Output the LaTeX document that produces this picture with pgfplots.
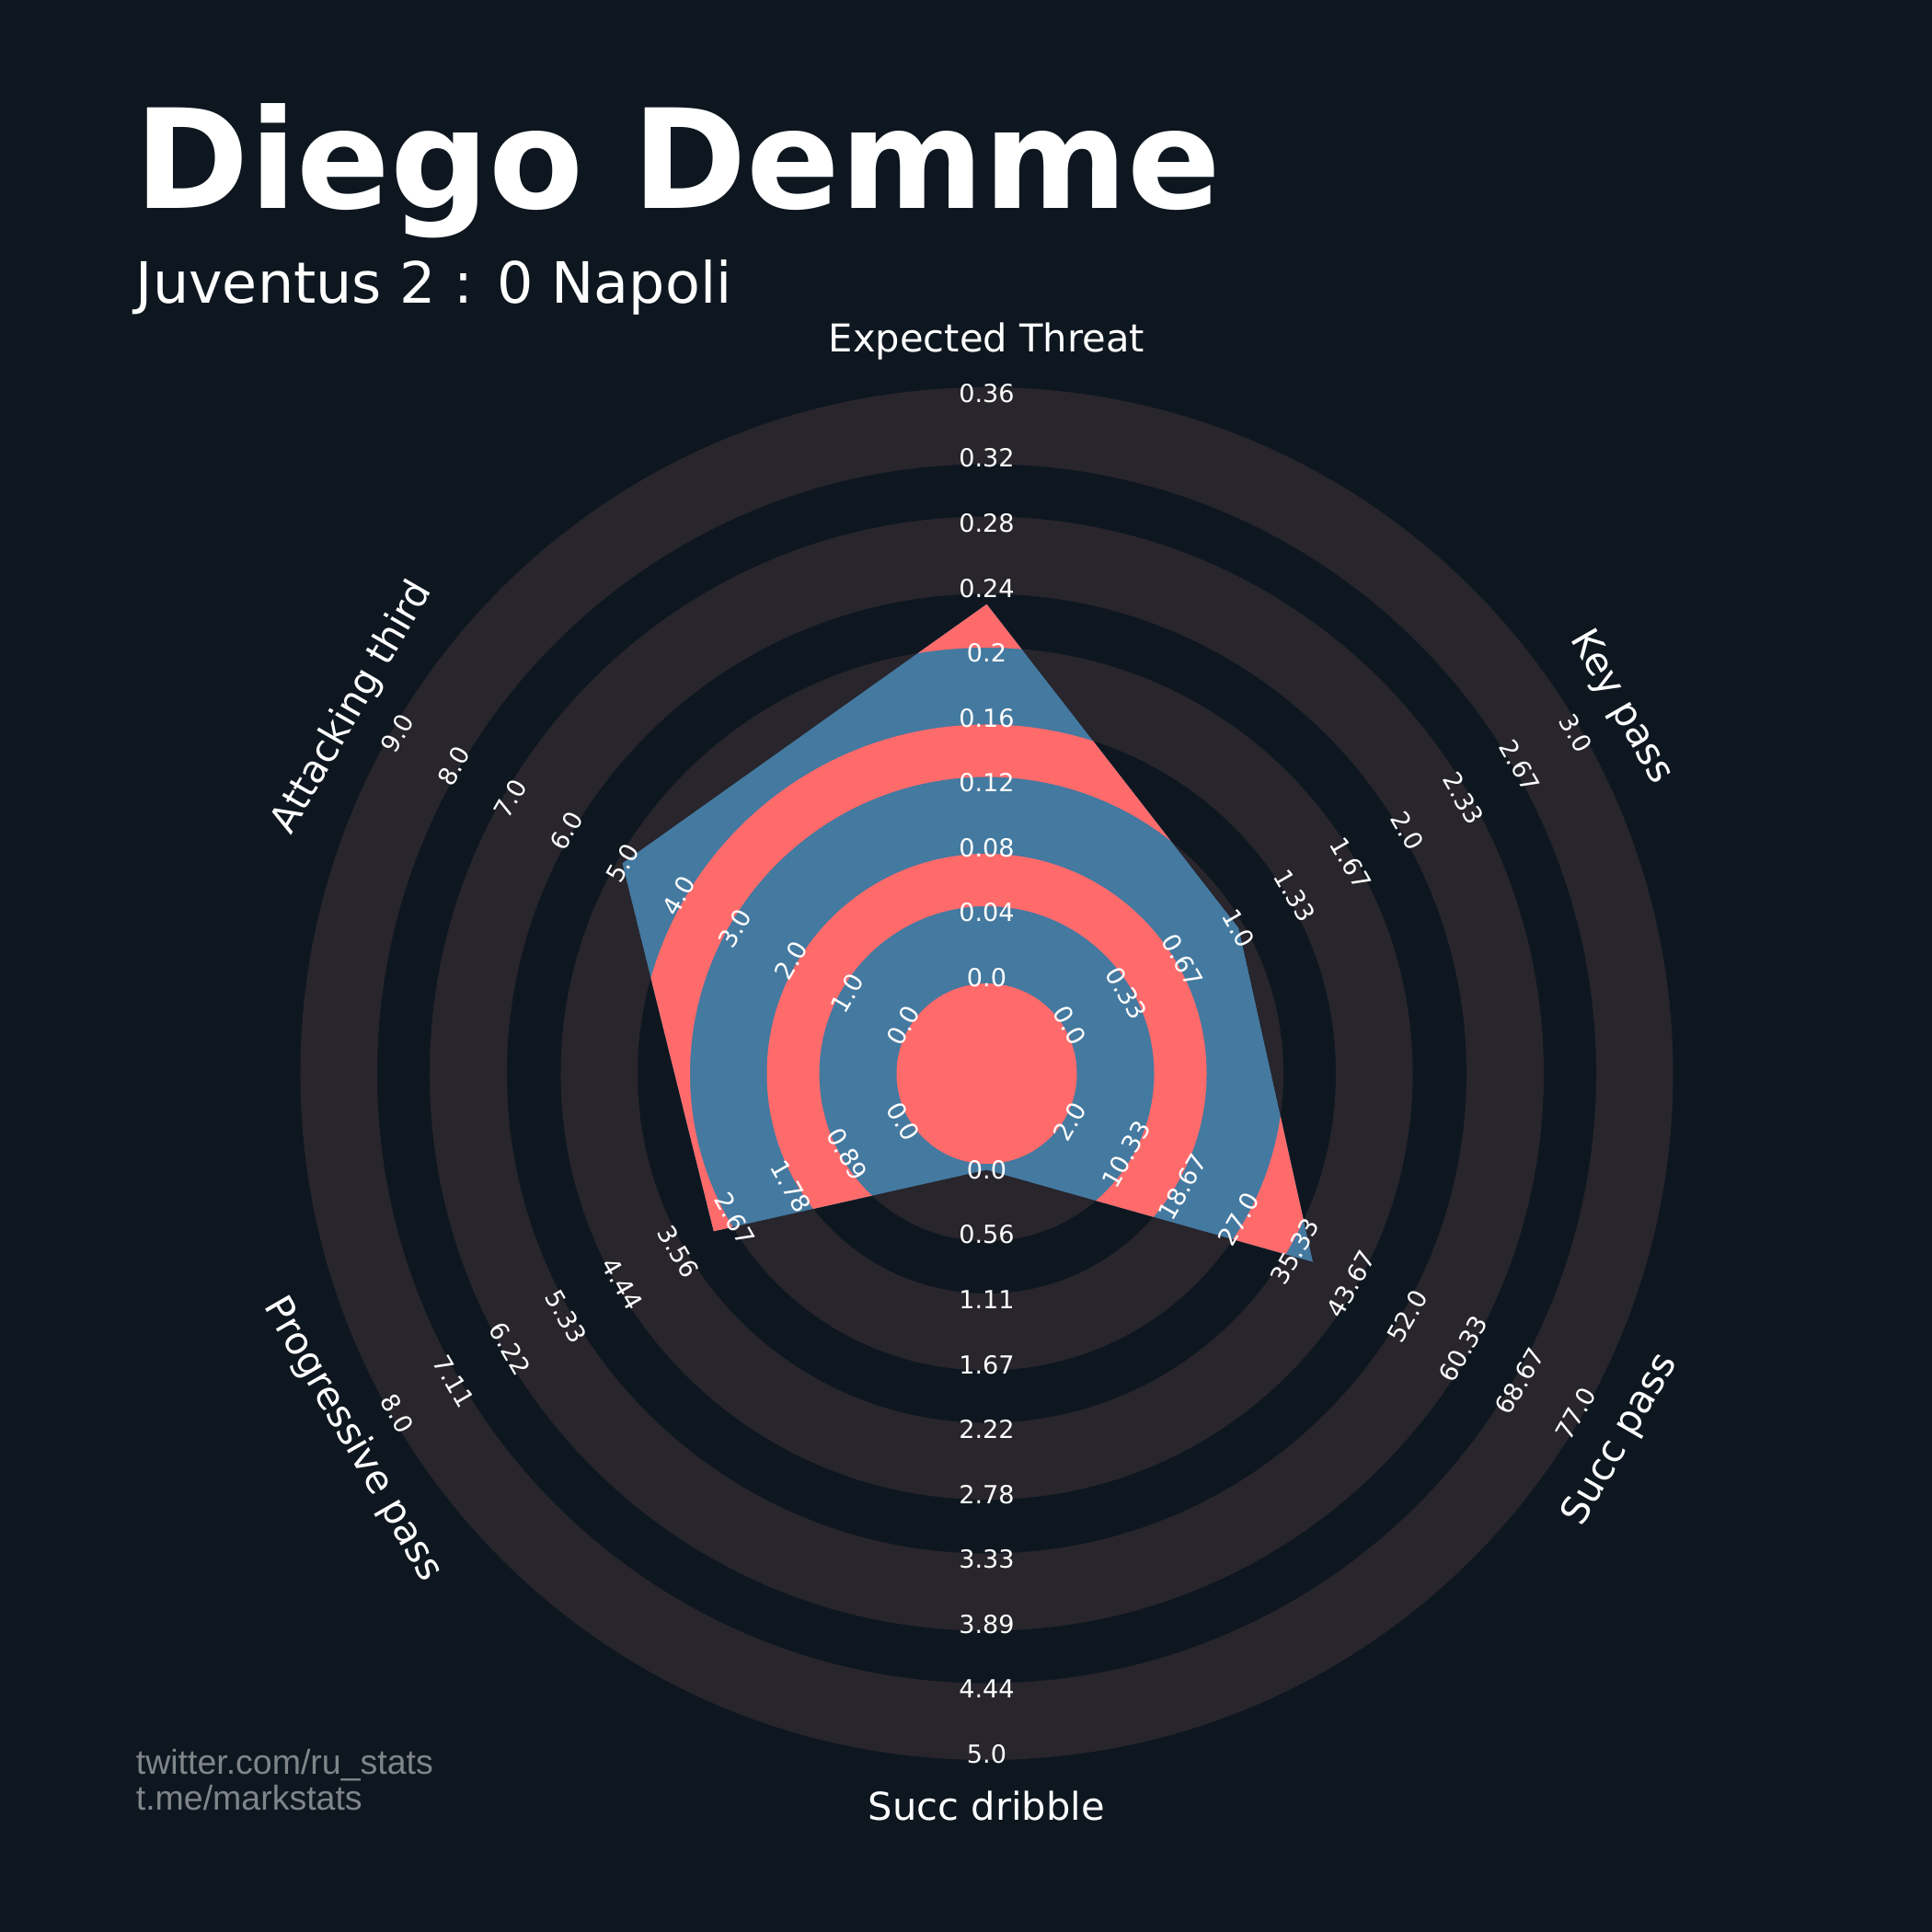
\documentclass[border=0pt]{standalone}
\usepackage{fontspec}
\setmainfont{DejaVu Sans}
\newfontfamily\footfont{Liberation Sans}
\usepackage{pgfplots}
\usepackage{pgfplotstable}
\pgfplotsset{compat=1.18}

\definecolor{bgdark}{HTML}{0E1720}
\definecolor{ringlight}{HTML}{28252C}
\definecolor{radarblue}{HTML}{4479A0}
\definecolor{radarred}{HTML}{FF6B6B}
\definecolor{footgray}{HTML}{80858A}

% one unit = one pixel of a 7in x 7in figure at 300 dpi
\newcommand{\px}{0.24pt}

% radar values: angle of the spoke, value, range of the spoke
\pgfplotstableread{
param angle value lo hi
ExpectedThreat 90 0.23 0 0.36
KeyPass 30 1.0 0 3
SuccPass -30 38 2 77
SuccDribble -90 0 0 5
ProgressivePass -150 3 0 8
AttackingThird 150 5 0 9
ExpectedThreat 90 0.23 0 0.36
}\radardata

% red bands inside the radar polygon (even-odd concentric circles)
\newcommand{\radarbands}{%
  \begin{pgfscope}%
  \pgfsetfillcolor{radarred}%
  \pgfseteorule
  \pgfpathcircle{\pgfplotspointaxisxy{0}{0}}{23.52pt}%
  \pgfpathcircle{\pgfplotspointaxisxy{0}{0}}{43.68pt}%
  \pgfpathcircle{\pgfplotspointaxisxy{0}{0}}{57.36pt}%
  \pgfpathcircle{\pgfplotspointaxisxy{0}{0}}{77.40pt}%
  \pgfpathcircle{\pgfplotspointaxisxy{0}{0}}{91.08pt}%
  \pgfpathcircle{\pgfplotspointaxisxy{0}{0}}{111.12pt}%
  \pgfpathcircle{\pgfplotspointaxisxy{0}{0}}{125.16pt}%
  \pgfpathcircle{\pgfplotspointaxisxy{0}{0}}{145.32pt}%
  \pgfpathcircle{\pgfplotspointaxisxy{0}{0}}{159.00pt}%
  \pgfusepath{fill}%
  \end{pgfscope}%
}

\begin{document}
\begin{tikzpicture}
% background
\fill[bgdark] (0,0) rectangle (504pt,504pt);

% concentric rings
\begin{scope}[shift={(257.4pt,223.92pt)}]
\foreach \ra/\rb in {98/182, 239/322.5, 379.5/463, 521.5/605.5, 662.5/746}{
  \fill[ringlight, even odd rule] (0,0) circle[radius=\rb*\px] circle[radius=\ra*\px];
}
\end{scope}

\begin{axis}[
  at={(0,0)}, anchor=south west,
  x=\px, y=\px,
  xmin=-1072.5, xmax=1027.5,
  ymin=-933, ymax=1167,
  hide axis, clip=false,
]
\addplot[draw=none, fill=radarblue, path picture={\radarbands}]
  table[
    x expr={(104.6+(\thisrow{value}-\thisrow{lo})/(\thisrow{hi}-\thisrow{lo})*634.8)*cos(\thisrow{angle})},
    y expr={(104.6+(\thisrow{value}-\thisrow{lo})/(\thisrow{hi}-\thisrow{lo})*634.8)*sin(\thisrow{angle})},
  ] {\radardata};
\end{axis}

% range labels along each spoke
\begin{scope}[shift={(257.4pt,223.92pt)}]
\foreach \th/\rot/\labs in {
  90/0/{0.0,0.04,0.08,0.12,0.16,0.2,0.24,0.28,0.32,0.36},
  30/-60/{0.0,0.33,0.67,1.0,1.33,1.67,2.0,2.33,2.67,3.0},
  -30/60/{2.0,10.33,18.67,27.0,35.33,43.67,52.0,60.33,68.67,77.0},
  -90/0/{0.0,0.56,1.11,1.67,2.22,2.78,3.33,3.89,4.44,5.0},
  -150/-60/{0.0,0.89,1.78,2.67,3.56,4.44,5.33,6.22,7.11,8.0},
  150/60/{0.0,1.0,2.0,3.0,4.0,5.0,6.0,7.0,8.0,9.0}}{
  \foreach \t [count=\k from 0] in \labs {
    \node[rotate=\rot, text=white, inner sep=0pt, font=\fontsize{6.5}{7}\selectfont]
      at (\th:{(104.6+70.53*\k)*\px}) {\t};
  }
}
% spoke names
\foreach \th/\rot/\name in {90/0/Expected Threat, 30/-60/Key pass, -30/60/Succ pass,
  -90/0/Succ dribble, -150/-60/Progressive pass, 150/60/Attacking third}{
  \node[rotate=\rot, text=white, inner sep=0pt, font=\fontsize{10}{12}\selectfont]
    at (\th:{796*\px}) {\name};
}
\end{scope}

% titles
\node[anchor=base west, inner sep=0pt, text=white, font=\fontsize{36}{40}\selectfont\bfseries]
  at (146*\px, 1873*\px) {Diego Demme};
\node[anchor=base west, inner sep=0pt, text=white, font=\fontsize{14.85}{18}\selectfont]
  at (147*\px, 1770*\px) {Juventus 2 : 0 Napoli};
\node[anchor=base west, inner sep=0pt, text=footgray, font=\footfont\fontsize{9}{11}\selectfont]
  at (147*\px, 171*\px) {twitter.com/ru\_stats};
\node[anchor=base west, inner sep=0pt, text=footgray, font=\footfont\fontsize{9}{11}\selectfont]
  at (147*\px, 132*\px) {t.me/markstats};
\end{tikzpicture}
\end{document}
